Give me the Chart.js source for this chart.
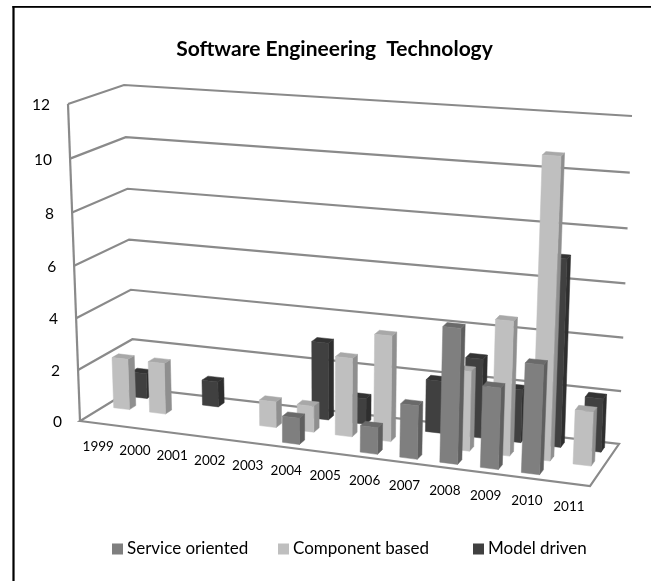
<!DOCTYPE html>
<html><head><meta charset="utf-8">
<style>html,body{margin:0;padding:0;background:#fff;overflow:hidden}canvas{position:absolute;left:0;top:0}</style>
<script src="https://cdn.jsdelivr.net/npm/chart.js@4"></script>
</head><body><canvas id="c" width="651" height="581"></canvas>
<script>
const categories = ['1999','2000','2001','2002','2003','2004','2005','2006','2007','2008','2009','2010','2011'];
const serviceOriented = [null,null,null,null,null,1,null,1,2,5,3,4,null];
const componentBased  = [2,2,null,null,1,1,3,4,null,3,5,11,2];
const modelDriven     = [1,null,1,null,null,3,1,null,2,3,2,7,2];
const seriesNames = ['Service oriented','Component based','Model driven'];
const seriesColors = ['#7f7f7f','#bfbfbf','#404040'];
const seriesSide = ['#5f5f5f','#8f8f8f','#2e2e2e'];
const seriesTop = ['#6a6a6a','#a8a8a8','#333333'];
const FONT = 'Lato, Carlito, sans-serif';

const BOX = {
  fl0:[80,421], fl1:[68,104], fr0:[590,486], fr1:[606,143],
  bl0:[134,388], bl1:[124,85], br0:[619,444], br1:[632,116]
};
const LEGEND_X = [112,278,473];
const LEGEND_Y = 549;
const lerp=(a,b,t)=>[a[0]+(b[0]-a[0])*t,a[1]+(b[1]-a[1])*t];
function project(u,v,w){
  const fu=u/(u+1.08*(1-u));
  const fv=v*(1+0.041*(v-1));
  const f0=lerp(BOX.fl0,BOX.fr0,fu), f1=lerp(BOX.fl1,BOX.fr1,fu);
  const b0=lerp(BOX.bl0,BOX.br0,fu), b1=lerp(BOX.bl1,BOX.br1,fu);
  return lerp(lerp(f0,b0,w),lerp(f1,b1,w),fv);
}
function normals(chart){
  const x=chart.scales.x,y=chart.scales.y;
  return {
    u:(px)=>(px-x.left)/(x.right-x.left),
    v:(val)=>(y.bottom-y.getPixelForValue(val))/(y.bottom-y.top)
  };
}
function poly(ctx,pts,fill){
  ctx.beginPath();pts.forEach((p,i)=>i?ctx.lineTo(p[0],p[1]):ctx.moveTo(p[0],p[1]));ctx.closePath();
  ctx.fillStyle=fill;ctx.fill();
  ctx.strokeStyle=fill;ctx.lineWidth=0.5;ctx.stroke();
}
const DEPTH_CENTERS=[1/6,1/2,5/6], BAR_DEPTH=0.12, BAR_WIDTH=0.44;

class Bar3DController extends Chart.BarController {
  draw(){
    const chart=this.chart,ctx=chart.ctx,ds=this.getDataset();
    const idx=this.index,n=normals(chart),xs=chart.scales.x;
    const cat=(xs.right-xs.left)/categories.length;
    ctx.save();
    for(let i=ds.data.length-1;i>=0;i--){
      const val=ds.data[i];
      if(val==null) continue;
      const cx=xs.getPixelForValue(i);
      const u0=n.u(cx-cat*BAR_WIDTH/2),u1=n.u(cx+cat*BAR_WIDTH/2);
      const w0=DEPTH_CENTERS[idx]-BAR_DEPTH/2,w1=w0+BAR_DEPTH;
      const v1=n.v(val);
      const A=project(u0,0,w0),B=project(u1,0,w0),C=project(u1,v1,w0),D=project(u0,v1,w0);
      const E=project(u1,0,w1),F=project(u1,v1,w1),G=project(u0,v1,w1);
      poly(ctx,[B,E,F,C],seriesSide[idx]);
      poly(ctx,[D,C,F,G],seriesTop[idx]);
      poly(ctx,[A,B,C,D],seriesColors[idx]);
    }
    ctx.restore();
  }
}
Bar3DController.id='bar3d';
Bar3DController.defaults=Chart.BarController.defaults;
Chart.register(Bar3DController);

const frame={
  id:'frame',
  beforeDraw(chart){
    const ctx=chart.ctx;
    ctx.save();ctx.fillStyle='#000';
    ctx.fillRect(12.4,6,2.2,575);
    ctx.fillRect(12.4,6,638.6,1.8);
    ctx.restore();
  },
  beforeDatasetsDraw(chart){
    const ctx=chart.ctx,n=normals(chart),y=chart.scales.y,xs=chart.scales.x;
    ctx.save();
    ctx.strokeStyle='#8a8a8a';ctx.lineWidth=2.2;ctx.lineJoin='miter';
    const line=(pts,close)=>{ctx.beginPath();pts.forEach((p,i)=>i?ctx.lineTo(p[0],p[1]):ctx.moveTo(p[0],p[1]));if(close)ctx.closePath();ctx.stroke();};
    line([project(0,0,0),project(1,0,0),project(1,0,1),project(0,0,1)],true);
    line([project(0,0,0),project(0,1,0)]);
    y.ticks.forEach(t=>{
      const v=n.v(t.value);
      if(t.value>0) line([project(0,v,0),project(0,v,1),project(1,v,1)]);
    });
    ctx.fillStyle='#000';ctx.textBaseline='middle';
    ctx.textAlign='right';ctx.font='15.5px '+FONT;
    y.ticks.forEach(t=>{
      const p=project(0,n.v(t.value),0);
      ctx.fillText(String(t.value),p[0]-18,p[1]+1);
    });
    ctx.textAlign='center';ctx.font='13.5px '+FONT;
    chart.data.labels.forEach((lab,i)=>{
      const p=project(n.u(xs.getPixelForValue(i)),0,0);
      ctx.fillText(lab,p[0],p[1]+23);
    });
    ctx.restore();
  },
  afterDraw(chart){
    const ctx=chart.ctx;
    ctx.save();
    ctx.textAlign='left';ctx.textBaseline='middle';ctx.font='17px '+FONT;
    chart.data.datasets.forEach((ds,i)=>{
      ctx.fillStyle=ds.backgroundColor;
      ctx.fillRect(LEGEND_X[i],LEGEND_Y-5.5,11,11);
      ctx.fillStyle='#000';
      ctx.fillText(ds.label,LEGEND_X[i]+15,LEGEND_Y);
    });
    ctx.restore();
  }
};

new Chart(document.getElementById('c'),{
  type:'bar3d',
  data:{labels:categories,datasets:[
    {label:seriesNames[0],data:serviceOriented,backgroundColor:seriesColors[0]},
    {label:seriesNames[1],data:componentBased,backgroundColor:seriesColors[1]},
    {label:seriesNames[2],data:modelDriven,backgroundColor:seriesColors[2]}
  ]},
  plugins:[frame],
  options:{
    responsive:false,animation:false,
    layout:{padding:{top:0,bottom:27,left:18,right:0}},
    scales:{
      x:{type:'category',display:false},
      y:{type:'linear',display:false,min:0,max:12,ticks:{stepSize:2}}
    },
    plugins:{
      title:{display:true,text:'Software Engineering  Technology',color:'#000',font:{family:FONT,size:21,weight:'bold'},padding:{top:37,bottom:10}},
      legend:{display:false},
      tooltip:{enabled:false}
    }
  }
});
</script></body></html>
